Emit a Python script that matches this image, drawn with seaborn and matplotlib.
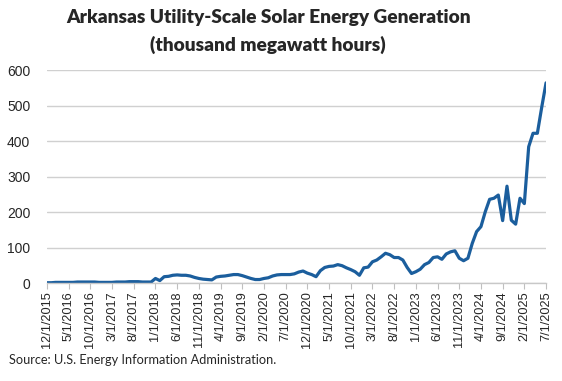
import matplotlib
matplotlib.use("Agg")
import matplotlib.pyplot as plt
import seaborn as sns
import pandas as pd

# Monatswerte, Dez 2015 bis Jul 2025 (tausend MWh)
months = pd.date_range("2015-12-01", "2025-07-01", freq="MS")
generation = [
    1, 1, 2, 2, 2, 2, 2, 3, 3, 3, 3, 3,          # 2015-12 .. 2016-11
    2, 2, 2, 2, 3, 3, 3, 4, 4, 4, 3, 3, 3,        # 2016-12 .. 2017-12
    13, 7, 18, 19, 22, 23, 22, 22, 20, 16, 13, 11,  # 2018
    10, 9, 17, 19, 20, 22, 24, 24, 21, 17, 13, 10,  # 2019
    10, 13, 15, 20, 23, 24, 24, 24, 26, 31, 34, 28,  # 2020
    24, 18, 35, 44, 47, 48, 52, 49, 43, 38, 32, 22,  # 2021
    43, 45, 60, 65, 74, 84, 80, 72, 72, 65, 44, 27,  # 2022
    32, 39, 52, 58, 72, 74, 67, 82, 88, 91, 70, 63,  # 2023
    70, 112, 145, 159, 201, 236, 239, 248, 176, 273, 177, 166,  # 2024
    239, 224, 384, 422, 422, 495, 564,            # 2025
]
yticks = [0, 100, 200, 300, 400, 500, 600]

df = pd.DataFrame({"idx": range(len(months)), "gen": generation})
tick_idx = list(range(0, len(months), 5))
tick_labels = [f"{months[i].month}/1/{months[i].year}" for i in tick_idx]

sns.set_style("white")
plt.rcParams["font.family"] = ["Liberation Sans", "DejaVu Sans"]

fig = plt.figure(figsize=(5.62, 3.81), dpi=100)
ax = fig.add_axes([0.0836, 0.257, 0.888, 0.559])

sns.lineplot(data=df, x="idx", y="gen", ax=ax, color="#1b5e9d", linewidth=2.3)

ax.set_xlim(0, len(months) - 1)
ax.set_ylim(0, 600)
ax.set_yticks(yticks)
ax.set_yticklabels([str(v) for v in yticks], fontsize=10)
ax.set_xticks(tick_idx)
ax.set_xticklabels(tick_labels, rotation=90, fontsize=9.2)
ax.tick_params(axis="y", length=0, pad=12)
ax.tick_params(axis="x", length=4, width=0.8, color="#bfbfbf", pad=2, bottom=True)
ax.yaxis.grid(True, color="#d0d0d0", linewidth=1.0)
ax.set_axisbelow(True)
ax.set_xlabel("")
ax.set_ylabel("")
for s in ["left", "right", "top"]:
    ax.spines[s].set_visible(False)
ax.spines["bottom"].set_color("#c8c8c8")
ax.spines["bottom"].set_linewidth(1.0)

fig.text(0.477, 0.953, "Arkansas Utility-Scale Solar Energy Generation",
         ha="center", va="center", fontsize=13.8, fontweight="heavy", family="Lato")
fig.text(0.477, 0.882, "(thousand megawatt hours)",
         ha="center", va="center", fontsize=13.8, fontweight="heavy", family="Lato")
fig.text(0.016, 0.055, "Source: U.S. Energy Information Administration.",
         ha="left", va="center", fontsize=9.2, family="Lato")

fig.savefig("out.png", dpi=100)
